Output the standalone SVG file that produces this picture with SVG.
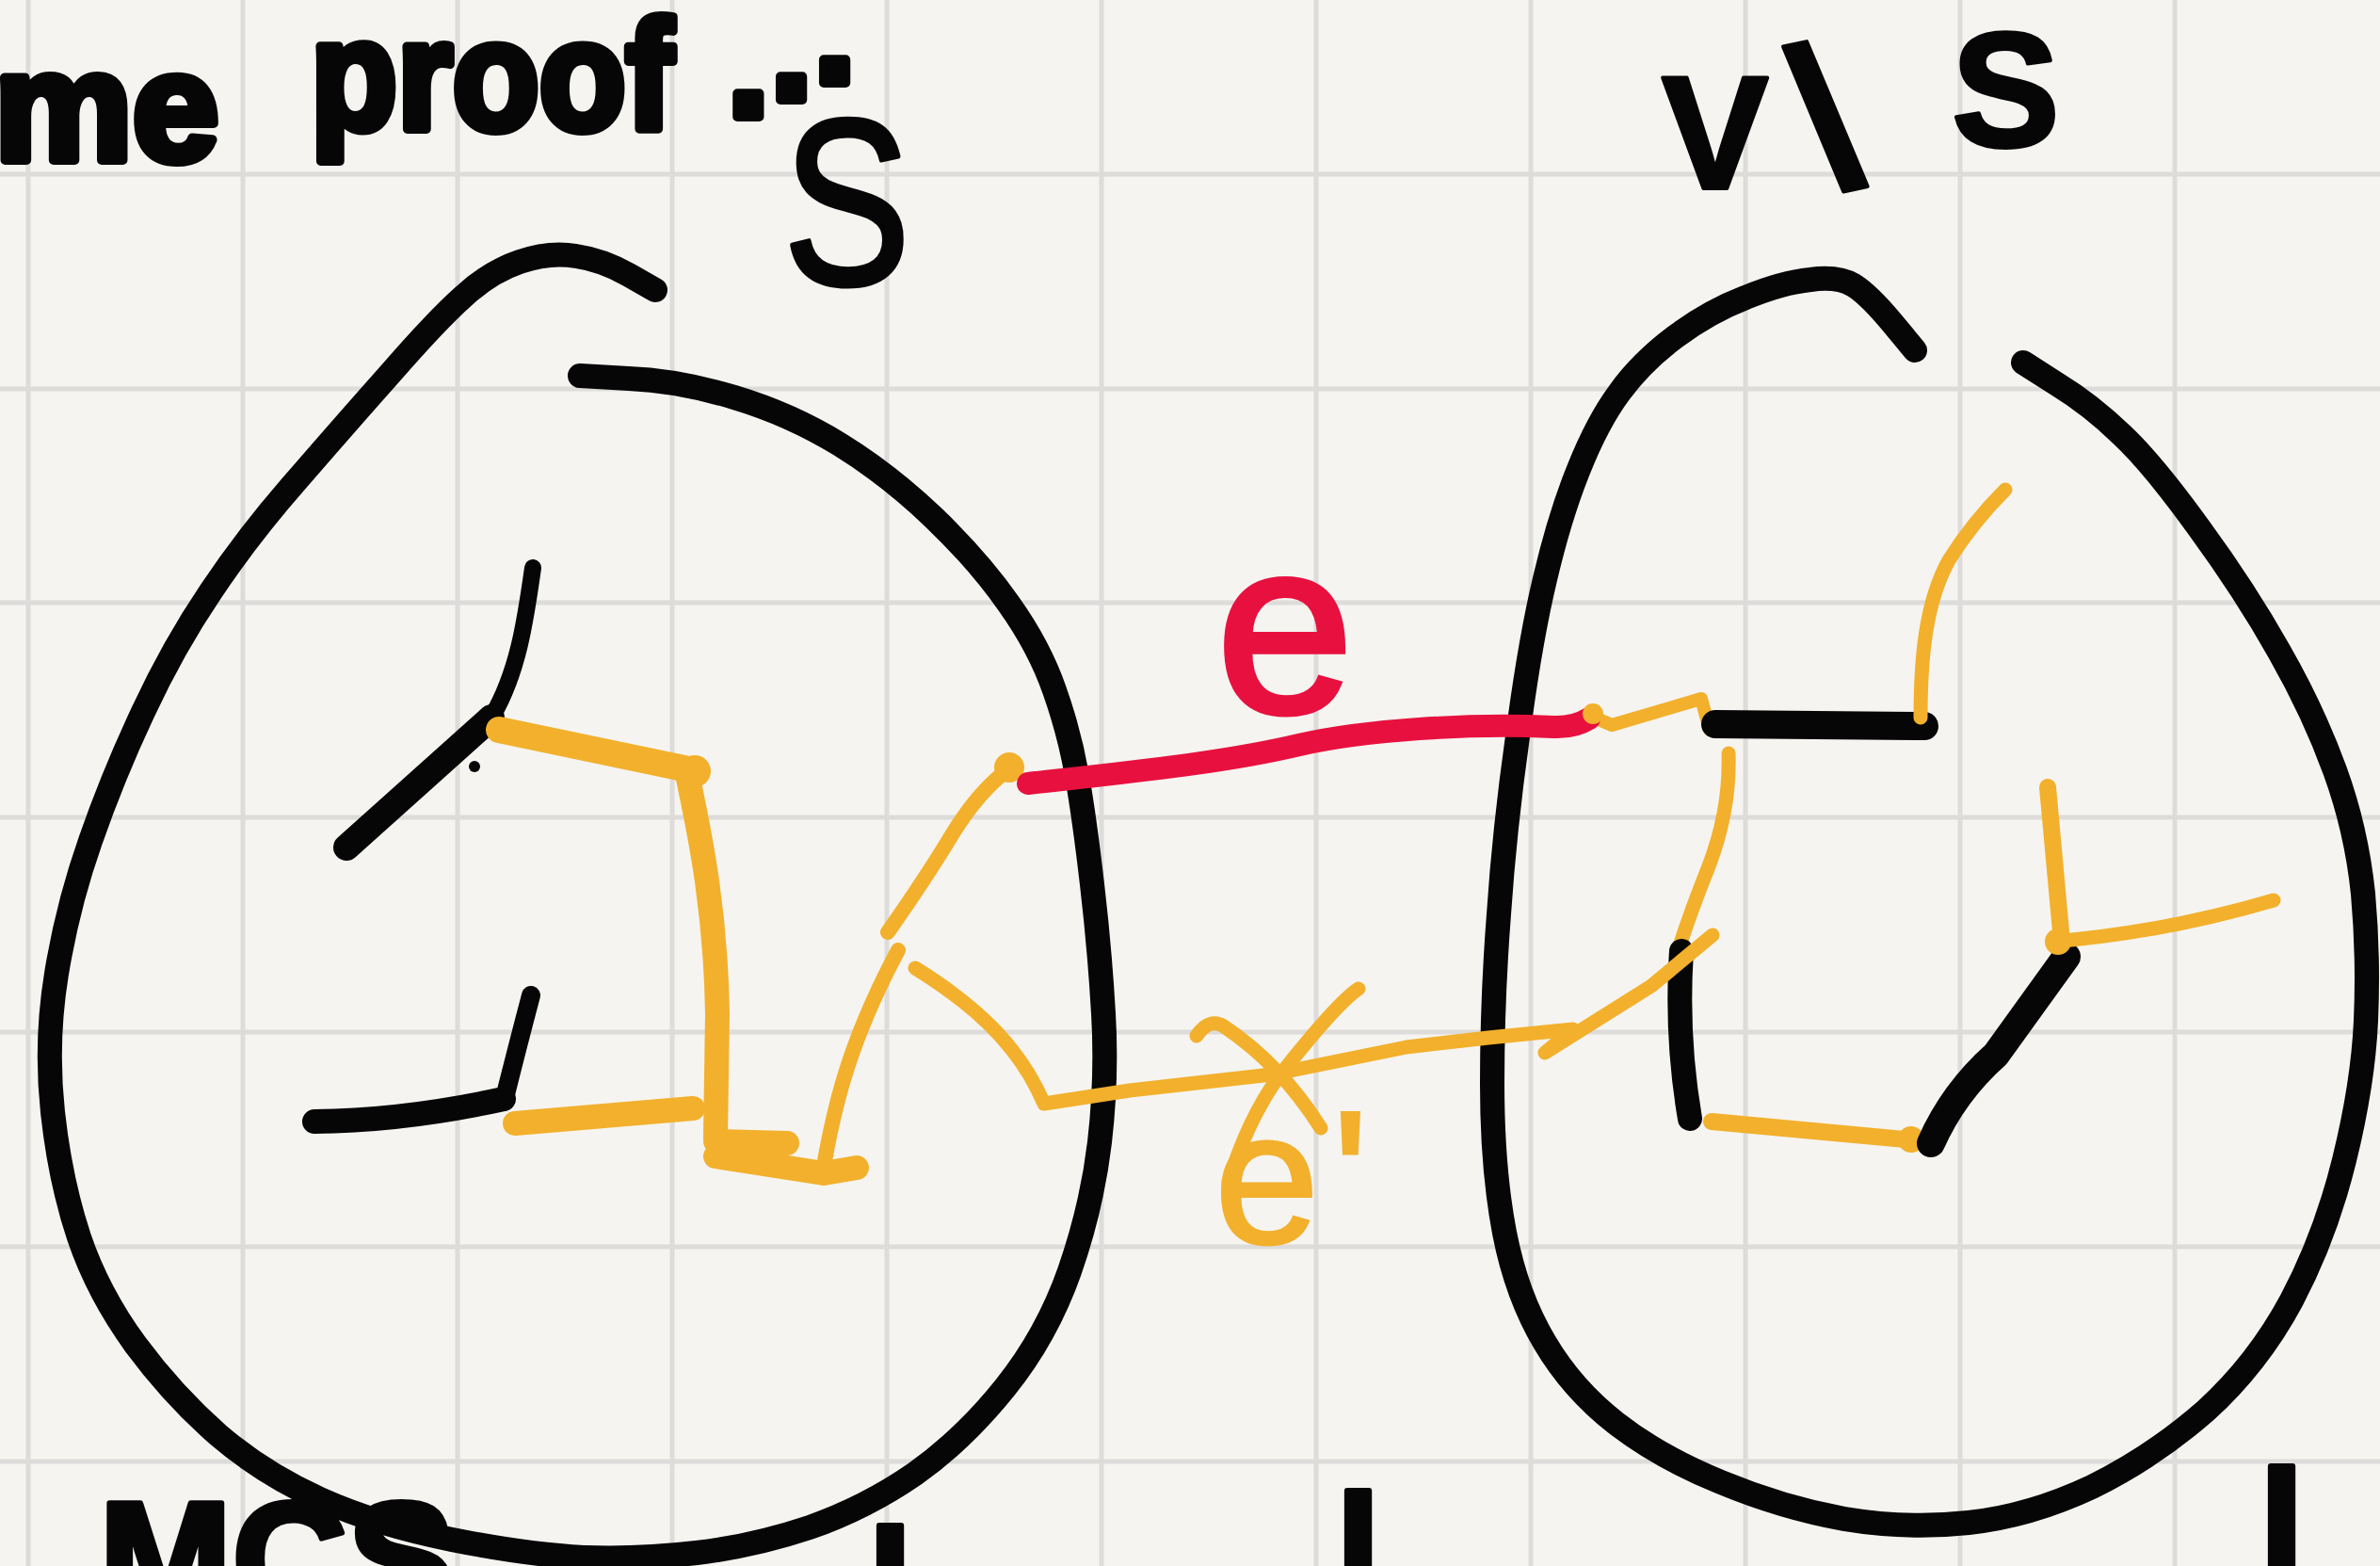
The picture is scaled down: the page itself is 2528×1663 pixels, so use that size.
<svg xmlns="http://www.w3.org/2000/svg" width="2528" height="1663" viewBox="0 0 2528 1663">
<style>
.grid line{stroke:#dddcda;stroke-width:5}
.ink{fill:none;stroke-linecap:round;stroke-linejoin:round}
.blk{stroke:#060606}
.org{stroke:#f2b02c}
.red{stroke:#e8103f}
.hand{font-family:"Liberation Sans",Arial,sans-serif;fill:#060606;stroke:#060606;stroke-linejoin:round}
</style>
<rect width="2528" height="1663" fill="#f5f4f0"/>
<g class="grid" id="grid">
<line x1="30" y1="0" x2="30" y2="1663"/><line x1="258" y1="0" x2="258" y2="1663"/><line x1="486" y1="0" x2="486" y2="1663"/><line x1="714" y1="0" x2="714" y2="1663"/><line x1="942" y1="0" x2="942" y2="1663"/><line x1="1170" y1="0" x2="1170" y2="1663"/><line x1="1398" y1="0" x2="1398" y2="1663"/><line x1="1626" y1="0" x2="1626" y2="1663"/><line x1="1854" y1="0" x2="1854" y2="1663"/><line x1="2082" y1="0" x2="2082" y2="1663"/><line x1="2310" y1="0" x2="2310" y2="1663"/>
<line x1="0" y1="185" x2="2528" y2="185"/><line x1="0" y1="413" x2="2528" y2="413"/><line x1="0" y1="640" x2="2528" y2="640"/><line x1="0" y1="868" x2="2528" y2="868"/><line x1="0" y1="1096" x2="2528" y2="1096"/><line x1="0" y1="1324" x2="2528" y2="1324"/><line x1="0" y1="1552" x2="2528" y2="1552"/>
</g>

<g id="title">
<text class="hand" font-size="165" font-weight="bold" stroke-width="10"><tspan x="-6" y="170">me</tspan><tspan x="330" y="137" textLength="385" lengthAdjust="spacingAndGlyphs">proof</tspan><tspan x="772" y="124" dy="0 -18 -18">...</tspan></text>
</g>

<g id="node-S">
<path class="ink blk" stroke-width="26" d="M696,308 L668,292 Q640,276 612,272 Q584,267 552,278 Q520,289 492,315 Q464,340 416,395 Q368,449 316,509 Q264,568 224,628 Q184,687 152,756 Q120,824 96,893 Q72,961 60,1034 Q48,1107 56,1181 Q64,1254 84,1314 Q104,1373 144,1428 Q184,1482 232,1524 Q280,1565 340,1592 Q400,1619 480,1635 Q560,1651 620,1654 Q680,1656 740,1649 Q800,1642 860,1622 Q920,1601 972,1565 Q1024,1528 1068,1473 Q1112,1418 1136,1350 Q1160,1281 1168,1213 Q1176,1144 1172,1076 Q1168,1007 1160,939 Q1152,870 1144,824 Q1136,778 1120,733 Q1104,687 1072,642 Q1040,596 992,550 Q944,504 892,472 Q840,440 780,422 Q720,404 668,402 L616,399"/>
<text class="hand" x="832" y="302" font-size="250" stroke-width="5" textLength="135" lengthAdjust="spacingAndGlyphs">S</text>
<g id="S-edges">
<path class="ink blk" stroke-width="18" d="M566,603 C558,660 550,715 522,762"/>
<path class="ink blk" stroke-width="28" d="M522,762 L368,900"/>
<circle cx="504" cy="814" r="6" fill="#060606"/>
<path class="ink org" stroke-width="28" d="M530,775 L736,818"/>
<circle cx="738" cy="819" r="17" fill="#f2b02c"/>
<path class="ink org" stroke-width="26" d="M730,822 C742,880 760,960 762,1076 L760,1207"/>
<path class="ink org" stroke-width="26" d="M760,1212 L836,1214 M760,1228 L875,1246 L910,1240"/>
<path class="ink org" stroke-width="16" d="M874,1244 C885,1180 900,1110 954,1009"/>
<path class="ink org" stroke-width="16" d="M943,990 Q985,930 1012,885 Q1040,840 1070,818"/>
<circle cx="1072" cy="815" r="16" fill="#f2b02c"/>
<path class="ink org" stroke-width="26" d="M547,1193 L736,1177"/>
<path class="ink blk" stroke-width="26" d="M334,1191 Q430,1190 535,1167"/>
<path class="ink blk" stroke-width="20" d="M564,1057 Q550,1110 535,1170"/>
</g>
</g>

<g id="node-VS">
<path class="ink blk" stroke-width="26" d="M2034,372 L2010,343 Q1985,313 1969,303 Q1952,293 1923,297 Q1893,300 1854,316 Q1815,331 1779,358 Q1743,385 1720,417 Q1697,448 1677,498 Q1657,547 1641,615 Q1625,682 1612,782 Q1598,881 1592,971 Q1585,1061 1585,1151 Q1585,1241 1598,1309 Q1611,1376 1641,1426 Q1670,1475 1716,1511 Q1762,1547 1828,1574 Q1893,1601 1959,1613 Q2025,1624 2091,1617 Q2156,1610 2222,1579 Q2287,1547 2343,1498 Q2398,1448 2434,1381 Q2470,1313 2490,1232 Q2510,1151 2513,1084 Q2516,1016 2510,949 Q2503,881 2480,818 Q2457,755 2421,692 Q2385,628 2336,561 Q2287,493 2254,462 Q2221,430 2185,408 L2149,385"/>
<text class="hand" font-weight="bold" stroke-width="4"><tspan x="1765" y="200" font-size="170">V</tspan><tspan x="1925" y="206" font-size="220" rotate="-12">\</tspan><tspan x="2073" y="155" font-size="172">S</tspan></text>
<g id="VS-edges">
<path class="ink org" stroke-width="14" d="M1689,760 L1712,770 L1807,742 L1816,775"/>
<path class="ink blk" stroke-width="30" d="M1822,769 L2044,771"/>
<path class="ink org" stroke-width="15" d="M2040,762 C2040,700 2045,640 2070,595 Q2095,555 2130,520"/>
<path class="ink org" stroke-width="15" d="M1836,800 Q1838,860 1815,920 Q1795,970 1783,1008"/>
<path class="ink blk" stroke-width="26" d="M1786,1010 Q1780,1100 1795,1188"/>
<path class="ink org" stroke-width="18" d="M1818,1191 L2044,1212"/>
<circle cx="2030" cy="1210" r="14" fill="#f2b02c"/>
<path class="ink blk" stroke-width="30" d="M2051,1214 Q2075,1160 2120,1120 L2195,1016"/>
<path class="ink org" stroke-width="18" d="M2175,836 L2190,1000"/>
<path class="ink org" stroke-width="15" d="M2180,1000 Q2300,990 2415,956"/>
<circle cx="2186" cy="1000" r="14" fill="#f2b02c"/>
</g>
</g>

<g id="connectors">
<g id="edge-e">
<path class="ink red" stroke-width="24" d="M1092,832 C1200,820 1300,810 1380,791 C1450,775 1560,768 1650,772 Q1672,773 1688,763"/>
<circle cx="1692" cy="758" r="11" fill="#f2b02c"/>
<text x="1292" y="756" font-family="'Liberation Sans',Arial,sans-serif" font-size="262" fill="#e8103f" stroke="#e8103f" stroke-width="6">e</text>
</g>
<g id="edge-e-prime">
<path class="ink org" stroke-width="15" d="M972,1028 Q1040,1070 1075,1115 Q1095,1140 1109,1172 L1200,1158 L1351,1141 L1494,1112 L1581,1102 L1671,1093 L1641,1118 L1754,1047 L1819,993"/>
<path class="ink org" stroke-width="15" d="M1271,1100 Q1285,1080 1300,1090 Q1360,1130 1403,1198"/>
<path class="ink org" stroke-width="15" d="M1443,1050 Q1420,1065 1357,1145 Q1325,1190 1305,1255"/>
<text x="1290" y="1320" font-family="'Liberation Sans',Arial,sans-serif" font-size="200" fill="#f2b02c" stroke="#f2b02c" stroke-width="3">e<tspan dx="14">'</tspan></text>
</g>
</g>

<g id="footer">
<text class="hand" font-weight="bold" font-size="170" stroke-width="6"><tspan x="105" y="1714">MCS</tspan><tspan x="922" y="1744">l</tspan><tspan x="1419" y="1707">l</tspan><tspan x="2400" y="1681">l</tspan></text>
</g>
</svg>
